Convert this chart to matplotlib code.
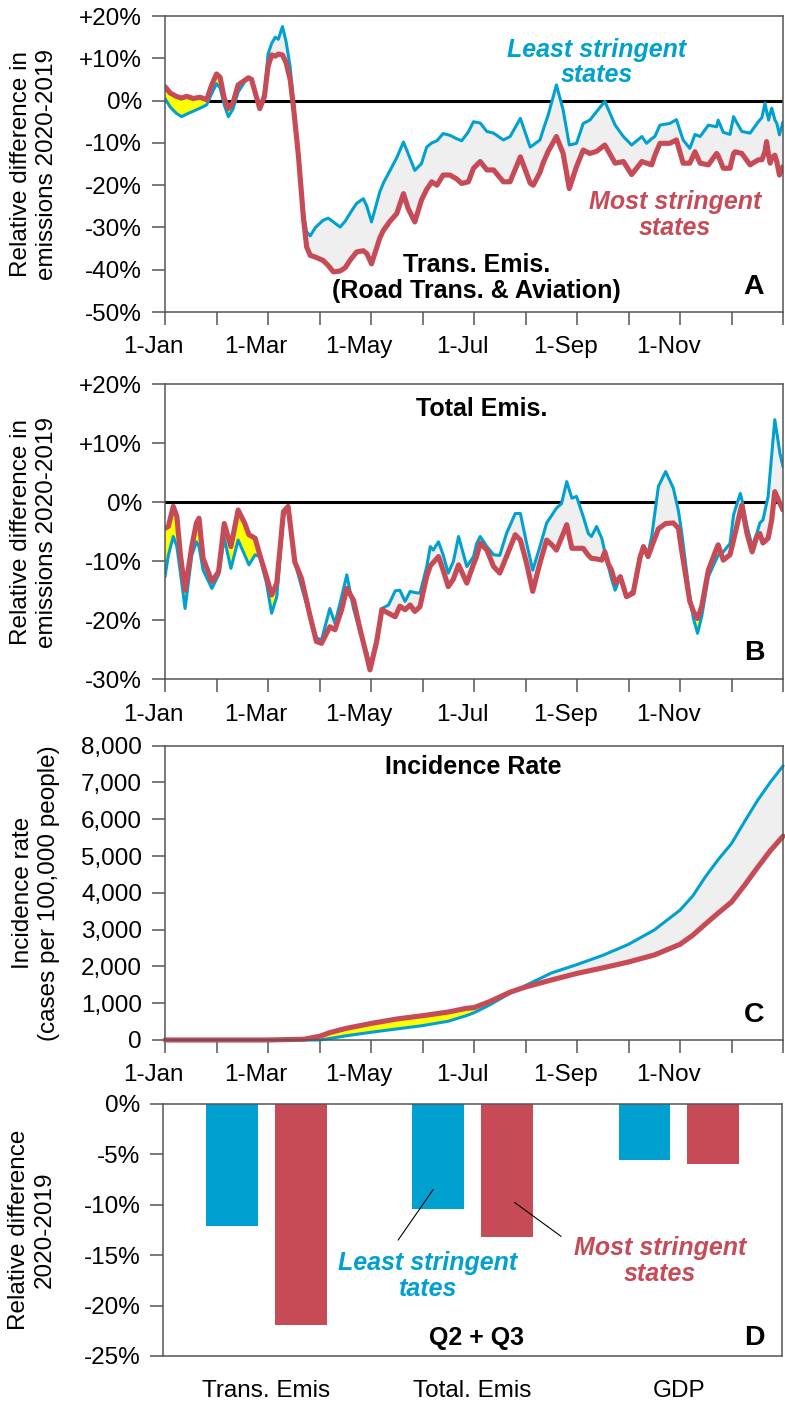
import numpy as np
import matplotlib
matplotlib.use("Agg")
import matplotlib.pyplot as plt
from matplotlib.transforms import ScaledTranslation

plt.rcParams["font.family"] = ["Liberation Sans", "DejaVu Sans"]

BLUE = "#00a1d0"
RED = "#c64b56"
GRAY_FILL = "#efefef"
YELLOW_FILL = "#ffff00"
SPINE = "#555555"

month_ticks = list(range(13))
month_labels = ["1-Jan", "", "1-Mar", "", "1-May", "", "1-Jul", "", "1-Sep", "", "1-Nov", "", ""]

# Panel A: transport emissions (month of year, % difference 2020-2019)
a_month = [0.0, 0.1, 0.22, 0.32, 0.42, 0.55, 0.68, 0.81, 0.90, 1.00,
           1.07, 1.15, 1.23, 1.32, 1.42, 1.55, 1.62, 1.68, 1.76, 1.84,
           1.93, 2.0, 2.07, 2.14, 2.2, 2.28, 2.35, 2.43, 2.49, 2.59,
           2.69, 2.75, 2.82, 2.92, 3.07, 3.17, 3.27, 3.40, 3.5, 3.59,
           3.72, 3.85, 3.92, 4.01, 4.17, 4.24, 4.37, 4.50, 4.63, 4.72,
           4.85, 4.98, 5.08, 5.18, 5.28, 5.40, 5.53, 5.66, 5.76, 5.89,
           5.99, 6.12, 6.25, 6.38, 6.57, 6.70, 6.90, 7.09, 7.15, 7.28,
           7.34, 7.44, 7.60, 7.73, 7.85, 7.99, 8.12, 8.25, 8.38, 8.54,
           8.74, 8.90, 9.06, 9.26, 9.35, 9.45, 9.51, 9.61, 9.80, 9.93,
           10.06, 10.19, 10.29, 10.39, 10.55, 10.71, 10.74, 10.84, 10.97, 11.04,
           11.07, 11.20, 11.36, 11.52, 11.59, 11.65, 11.68, 11.72, 11.75, 11.78,
           11.84, 11.88, 11.93, 12.0]
a_least = [0.5, -1.5, -3.0, -3.8, -3.2, -2.5, -1.8, -1.0, 1.5, 4.0,
           3.0, -1.0, -3.8, -2.0, 2.0, 4.5, 5.2, 5.0, 1.5, -1.9,
           1.0, 11, 13.5, 15, 14.5, 17.5, 14, 8, 0, -12,
           -27, -31, -32, -30, -28.3, -27.8, -28.7, -29.9, -28.5, -26.7,
           -24.3, -23.2, -25, -28.7, -21.6, -19.5, -16.5, -13.5, -9.8, -12.5,
           -16.5, -14.9, -11, -10, -9.5, -7.8, -8.2, -9, -9.5, -7.4,
           -5, -5.3, -7.3, -7.7, -9.3, -8.5, -4.2, -11, -10.5, -9.3,
           -7, -3.4, 3.7, -2.2, -10.5, -10.1, -5.4, -4.6, -2.6, -0.2,
           -5.8, -8.5, -10.5, -8.5, -10.1, -9, -8.5, -5.8, -5.4, -4.5,
           -9.3, -11.3, -8, -8.5, -5.8, -6.2, -4.6, -7.5, -8, -3.8,
           -4.5, -7.3, -7.7, -5, -4, -0.6, -2.5, -4.6, -3, -1.8,
           -4.5, -5.4, -8.1, -5]
a_most = [3.3, 1.8, 1.0, 0.6, 1.0, 0.5, 0.8, 0.2, 3.5, 6.3,
          5.5, 0.5, -1.9, -0.5, 3.7, 4.8, 5.4, 5.0, 1.5, -1.9,
          1.0, 8, 10.8, 10.5, 11, 10.8, 9, 5, -1, -13,
          -28, -34.6, -36.6, -37, -37.8, -39, -40.5, -40.3, -39.5, -37.8,
          -35.8, -35.5, -36.2, -38.6, -32.5, -30.7, -28.5, -26.7, -22, -25.5,
          -28.7, -23.5, -21, -19.2, -20, -17.6, -17.6, -18.5, -19.6, -19.2,
          -16, -14.4, -16.4, -16.4, -19.2, -19.2, -13.3, -19.5, -20, -17,
          -14.8, -12, -8.5, -12.5, -20.8, -15.6, -11.7, -12.5, -12, -10.5,
          -14.8, -14.4, -17.5, -14.4, -14.8, -15.2, -13, -10.1, -10.1, -9.3,
          -14.8, -14.8, -12.1, -14.8, -15.2, -12.5, -13, -16, -16, -12.5,
          -12.1, -12.5, -15.2, -14, -14, -12, -9.7, -13, -14.8, -13.5,
          -12.9, -14.5, -17.6, -15.6]

# Panel B: total emissions
b_month = [0.0, 0.065, 0.16, 0.23, 0.30, 0.39, 0.52, 0.61, 0.66, 0.74,
           0.91, 1.04, 1.15, 1.28, 1.42, 1.55, 1.63, 1.75, 1.84, 1.97,
           2.07, 2.17, 2.30, 2.39, 2.52, 2.65, 2.82, 2.94, 3.04, 3.20,
           3.30, 3.43, 3.53, 3.66, 3.79, 3.92, 3.98, 4.11, 4.21, 4.34,
           4.47, 4.56, 4.66, 4.76, 4.85, 4.95, 5.08, 5.15, 5.21, 5.31,
           5.40, 5.50, 5.60, 5.70, 5.86, 5.99, 6.05, 6.12, 6.25, 6.38,
           6.50, 6.63, 6.80, 6.90, 7.02, 7.14, 7.28, 7.41, 7.51, 7.60,
           7.70, 7.80, 7.90, 7.99, 8.12, 8.22, 8.28, 8.38, 8.48, 8.54,
           8.61, 8.67, 8.74, 8.84, 8.96, 9.09, 9.22, 9.29, 9.38, 9.45,
           9.58, 9.72, 9.87, 9.97, 10.03, 10.19, 10.26, 10.34, 10.42, 10.55,
           10.68, 10.74, 10.84, 10.97, 11.04, 11.17, 11.20, 11.30, 11.40, 11.49,
           11.55, 11.61, 11.71, 11.78, 11.84, 11.94, 12.0]
b_least = [-12.6, -9, -5.8, -7.5, -12, -18, -9, -6.7, -7.5, -11.5,
           -14.6, -12.3, -6.1, -11.2, -6.4, -9, -10.6, -8.9, -9.2, -13.7,
           -18.8, -16, -2.4, -0.9, -10.1, -14.3, -19.4, -23, -23.3, -18,
           -20.5, -16, -12.3, -18, -22.2, -25.5, -27.9, -23, -18, -17.4,
           -15, -14.9, -16.8, -15.1, -15.3, -15.4, -11, -7.5, -8.1, -6.7,
           -8.9, -12, -10, -5.8, -10.9, -9.2, -7, -5.8, -7.5, -8.9,
           -9, -5.3, -1.9, -1.9, -6.9, -11.5, -7.5, -3.5, -2.2, -1,
           -0.2, 3.5, 0.7, 1, -2.4, -5.3, -5.8, -4.1, -6.1, -8.4,
           -10.9, -13, -14.9, -12.6, -16, -14.9, -8.9, -8, -8.6, -5.8,
           2.7, 5.2, 2.4, -1.5, -5, -16, -19.7, -22.2, -19.4, -12.6,
           -10.1, -9, -8.4, -7, -2.1, 1.5, 0.5, -4, -7.5, -5.3,
           -3.5, -3, 1, 8, 14, 8.3, 6]
b_most = [-4.4, -4.1, -0.7, -2.4, -9, -14.9, -7.5, -3.5, -2.7, -9.5,
          -13.4, -11.8, -3.6, -7.5, -1.3, -3.6, -5.5, -6.1, -8.9, -12.6,
          -15.7, -13.7, -1.6, -0.7, -10.1, -12.9, -19.4, -23.6, -23.9, -21.1,
          -21.6, -18.2, -14.6, -16.6, -21.6, -26.2, -28.4, -23.6, -18.2, -18.8,
          -19.4, -17.6, -18.2, -17.4, -18.5, -17.7, -12.6, -10.8, -10.2, -9.2,
          -11.5, -14.3, -13, -10.6, -13.7, -10.5, -9.2, -6.9, -8.1, -10.9,
          -12, -9.2, -5.5, -6.4, -10.3, -15.1, -10.3, -6.4, -7.2, -8.1,
          -6, -3.8, -7.8, -7.8, -7.8, -9, -9.5, -9.6, -9.8, -8.4,
          -10.5, -11.5, -13.7, -12.6, -16, -15.4, -9.5, -7.5, -9.2, -7.5,
          -4.5, -3.6, -3.5, -4.4, -8.1, -16.8, -18.5, -19.7, -17.7, -11.5,
          -8.5, -7.2, -9.8, -8.9, -6.4, -1.5, -0.5, -5.3, -8.4, -5.8,
          -5.3, -6.9, -6.1, -3, 1.8, -0.2, -1.3]

# Panel C: cumulative incidence rate (cases per 100,000)
c_month = [0, 2.0, 2.7, 3.0, 3.2, 3.5, 4.0, 4.5, 5.0, 5.5,
           5.85, 6.0, 6.3, 6.7, 7.0, 7.5, 8.0, 8.5, 9.0, 9.5,
           10.0, 10.25, 10.5, 10.75, 11.0, 11.25, 11.5, 11.75, 12.0]
c_least = [0, 0, 0, 0, 40, 110, 210, 300, 390, 510,
           660, 740, 950, 1270, 1480, 1820, 2050, 2300, 2600, 2990,
           3530, 3920, 4450, 4920, 5340, 5930, 6500, 7000, 7450]
c_most = [0, 0, 20, 100, 200, 310, 450, 570, 660, 760,
          860, 880, 1040, 1300, 1440, 1630, 1810, 1960, 2120, 2310,
          2600, 2850, 3160, 3460, 3750, 4200, 4680, 5140, 5540]

# Panel D: Q2 + Q3 averages
d_categories = ["Trans. Emis", "Total. Emis", "GDP"]
d_least = [-12.1, -10.4, -5.6]
d_most = [-21.9, -13.2, -6.0]


def style_axes(ax):
    for sp in ax.spines.values():
        sp.set_color(SPINE)
        sp.set_linewidth(1.1)
    ax.tick_params(axis="both", direction="out", length=9.5, width=1.1,
                   color=SPINE, labelsize=17.5, pad=7)


def draw_pair(ax, x, least, most, clip=True):
    x = np.array(x, dtype=float)
    least = np.array(least, dtype=float)
    most = np.array(most, dtype=float)
    ax.fill_between(x, least, most, where=least >= most, interpolate=True,
                    color=GRAY_FILL, lw=0)
    ax.fill_between(x, least, most, where=least < most, interpolate=True,
                    color=YELLOW_FILL, lw=0)
    ax.plot(x, least, color=BLUE, lw=2.2, clip_on=clip,
            solid_joinstyle="round", solid_capstyle="round")
    ax.plot(x, most, color=RED, lw=3.7, clip_on=clip,
            solid_joinstyle="round", solid_capstyle="round")


def month_axis(ax):
    ax.set_xlim(0, 12)
    ax.set_xticks(month_ticks)
    ax.set_xticklabels(month_labels)
    ax.tick_params(axis="x", pad=8)
    # the original labels sit a little to the left of their ticks
    shift = ScaledTranslation(-12 / 100, 0, fig.dpi_scale_trans)
    for lab in ax.get_xticklabels():
        lab.set_transform(lab.get_transform() + shift)


fig = plt.figure(figsize=(7.85, 14.05), dpi=100)

label_font = dict(fontsize=17.5, rotation=90, ha="center", va="center",
                  multialignment="center")
bold = dict(fontsize=18, fontweight="bold", ha="center", va="center")
italic_b = dict(fontsize=18, fontweight="bold", style="italic",
                ha="center", va="center", linespacing=1.1)

# ---- A ----
axA = fig.add_axes([0.2102, 0.7779, 0.7873, 0.2107])
style_axes(axA)
axA.axhline(0, color="black", lw=2.2, zorder=1)
draw_pair(axA, a_month, a_least, a_most)
month_axis(axA)
axA.set_ylim(-50, 20)
a_ticks = list(range(-50, 21, 10))
axA.set_yticks(a_ticks)
axA.set_yticklabels([("+%d%%" % t) if t > 0 else ("%d%%" % t) for t in a_ticks])
axA.text(0.6985, 0.843, "Least stringent\nstates", color=BLUE,
         transform=axA.transAxes, **italic_b)
axA.text(0.825, 0.328, "Most stringent\nstates", color=RED,
         transform=axA.transAxes, **italic_b)
axA.text(0.504, 0.115, "Trans. Emis.\n(Road Trans. & Aviation)",
         transform=axA.transAxes, linespacing=1.1, **bold)
axA.text(0.953, 0.085, "A", transform=axA.transAxes, fontsize=20.5,
         fontweight="bold", ha="center", va="center")
fig.text(34 / 785, 1 - 164 / 1405, "Relative difference in\nemissions 2020-2019",
         **label_font)

# ---- B ----
axB = fig.add_axes([0.2102, 0.5165, 0.7873, 0.2100])
style_axes(axB)
axB.axhline(0, color="black", lw=2.2, zorder=1)
draw_pair(axB, b_month, b_least, b_most)
month_axis(axB)
axB.set_ylim(-30, 20)
b_ticks = list(range(-30, 21, 10))
axB.set_yticks(b_ticks)
axB.set_yticklabels([("+%d%%" % t) if t > 0 else ("%d%%" % t) for t in b_ticks])
axB.text(0.513, 0.916, "Total Emis.", transform=axB.transAxes, **bold)
axB.text(0.953, 0.089, "B", transform=axB.transAxes, fontsize=20.5,
         fontweight="bold", ha="center", va="center")
fig.text(34 / 785, 1 - 532 / 1405, "Relative difference in\nemissions 2020-2019",
         **label_font)

# ---- C ----
axC = fig.add_axes([0.2102, 0.2598, 0.7873, 0.2095])
style_axes(axC)
draw_pair(axC, c_month, c_least, c_most, clip=False)
month_axis(axC)
axC.set_ylim(0, 8000)
c_ticks = list(range(0, 8001, 1000))
axC.set_yticks(c_ticks)
axC.set_yticklabels(["{:,}".format(t) for t in c_ticks])
axC.text(0.498, 0.928, "Incidence Rate", transform=axC.transAxes, **bold)
axC.text(0.953, 0.085, "C", transform=axC.transAxes, fontsize=20.5,
         fontweight="bold", ha="center", va="center")
fig.text(36 / 785, 1 - 893 / 1405, "Incidence rate\n(cases per 100,000 people)",
         **label_font)

# ---- D ----
axD = fig.add_axes([0.2080, 0.03488, 0.7881, 0.1794])
style_axes(axD)
xd = np.arange(len(d_categories))
axD.bar(xd - 0.1667, d_least, width=0.25, color=BLUE)
axD.bar(xd + 0.1667, d_most, width=0.25, color=RED)
axD.set_xlim(-0.5, 2.5)
axD.set_ylim(-25, 0)
d_ticks = list(range(-25, 1, 5))
axD.set_yticks(d_ticks)
axD.set_yticklabels(["%d%%" % t for t in d_ticks])
axD.set_xticks(xd)
axD.set_xticklabels(d_categories)
axD.tick_params(axis="x", length=0, pad=17)
axD.annotate("", xy=(0.817, -8.25), xytext=(0.631, -13.73),
             arrowprops=dict(arrowstyle="-", lw=0.8, color="black"))
axD.annotate("", xy=(1.192, -9.6), xytext=(1.44, -13.3),
             arrowprops=dict(arrowstyle="-", lw=0.8, color="black"))
axD.text(0.783, -17.1, "Least stringent\ntates", color=BLUE, **italic_b)
axD.text(1.91, -15.6, "Most stringent\nstates", color=RED, **italic_b)
axD.text(0.5066, 0.071, "Q2 + Q3", transform=axD.transAxes, **bold)
axD.text(0.956, 0.071, "D", transform=axD.transAxes, fontsize=20.5,
         fontweight="bold", ha="center", va="center")
fig.text(32 / 785, 1 - 1230 / 1405, "Relative difference\n2020-2019",
         **label_font)

fig.savefig("out.png", dpi=100)
